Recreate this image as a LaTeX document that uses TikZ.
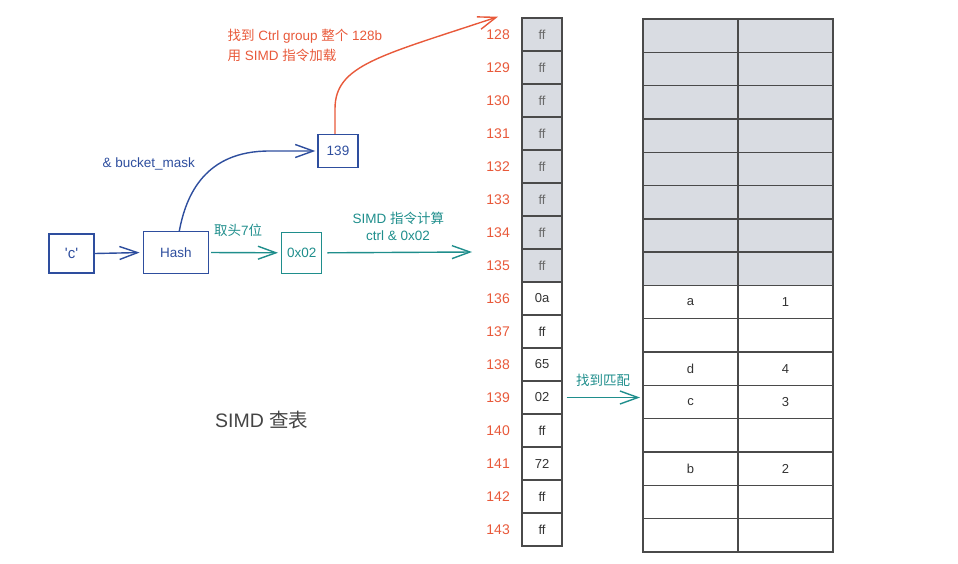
\documentclass[tikz,border=0pt]{standalone}
\usepackage{fontspec}
\setmainfont{Liberation Sans}
\newfontfamily\cjk{Noto Sans CJK SC}
\usetikzlibrary{arrows.meta}
\definecolor{cblue}{HTML}{2E4E9E}
\definecolor{cteal}{HTML}{1F8E8C}
\definecolor{cred}{HTML}{E8593A}
\definecolor{cgrayfill}{HTML}{D9DCE2}
\definecolor{cborder}{HTML}{4A4A4A}
\definecolor{ctext}{HTML}{333333}
\definecolor{cgtext}{HTML}{6A6A6A}
\definecolor{ctitle}{HTML}{444444}
\tikzset{
  tip/.style={-{Straight Barb[length=18pt,width=13pt]}, line width=1.4pt},
  lbl/.style={font=\fontsize{13.5}{16}\selectfont, inner sep=0},
  keybox/.style={draw=cblue, line width=1.4pt, text=cblue, inner sep=0, font=\fontsize{13.5}{16}\selectfont},
  ctrlcell/.style={draw=cborder, line width=1.4pt, minimum width=40pt, minimum height=33pt, inner sep=0, font=\fontsize{13}{15}\selectfont, text=ctext},
  ctrlgray/.style={ctrlcell, fill=cgrayfill, text=cgtext},
  tcell/.style={draw=cborder, line width=1.4pt, minimum width=95pt, minimum height=33.3pt, inner sep=0, font=\fontsize{13}{15}\selectfont, text=ctext},
  tgray/.style={tcell, fill=cgrayfill},
  idx/.style={text=cred, font=\fontsize{14}{16}\selectfont, inner sep=0},
}
\begin{document}
\begin{tikzpicture}[x=1pt,y=-1pt]
\useasboundingbox (0,0) rectangle (958,563);
% left nodes
\node[keybox, minimum width=45pt, minimum height=39pt] (c) at (71.5,253.5) {\fontsize{15}{17}\selectfont \textquotesingle c\textquotesingle};
\node[keybox, minimum width=65pt, minimum height=41.5pt] (hash) at (175.8,252.5) {Hash};
\node[keybox, draw=cteal, text=cteal, minimum width=40pt, minimum height=41pt] (ox) at (301.7,252.8) {0x02};
\node[keybox, minimum width=40pt, minimum height=33pt] (n139) at (338,151) {139};
% ctrl column
\foreach \i/\v in {0/ff,1/ff,2/ff,3/ff,4/ff,5/ff,6/ff,7/ff}{
  \node[ctrlgray] (k\i) at (542,{18+33*\i+16.5}) {\v};
}
\foreach \i/\v in {8/0a,9/ff,10/65,11/02,12/ff,13/72,14/ff,15/ff}{
  \node[ctrlcell] (k\i) at (542,{18+33*\i+16.5}) {\v};
}
\foreach \i in {0,...,15}{
  \pgfmathtruncatemacro{\num}{128+\i}
  \node[idx, anchor=east] (r\i) at (510,{18+33*\i+16.5}) {\num};
}
% table
\foreach \i in {0,...,7}{
  \node[tgray] (ta\i) at (690.5,{19+33.3*\i+16.65}) {};
  \node[tgray] (tb\i) at (785.5,{19+33.3*\i+16.65}) {};
}
\foreach \i/\a/\b in {8/a/1,9//,10/d/4,11/c/3,12//,13/b/2,14//,15//}{
  \node[tcell] (ta\i) at (690.5,{19+33.3*\i+16.65}) {\a};
  \node[tcell] (tb\i) at (785.5,{19+33.3*\i+16.65}) {\b};
}
% labels
\node[lbl, text=cred, anchor=west] (t1) at (227.5,36) {{\cjk 找到} Ctrl group {\cjk 整个} 128b};
\node[lbl, text=cred, anchor=west] (t2) at (227.5,55) {{\cjk 用} SIMD {\cjk 指令加载}};
\node[lbl, text=cblue, anchor=west] (bm) at (102.5,163.5) {\& bucket\_mask};
\node[lbl, text=cteal, anchor=west] (tk) at (214,230) {{\cjk 取头}7{\cjk 位}};
\node[lbl, text=cteal] (s1) at (398.3,218.3) {SIMD {\cjk 指令计算}};
\node[lbl, text=cteal] (s2) at (398,236) {ctrl \& 0x02};
\node[lbl, text=cteal, anchor=west] (fm) at (576,380) {\cjk 找到匹配};
\node[inner sep=0, text=ctitle, anchor=west, font=\fontsize{19.5}{22}\selectfont] (title) at (215,420) {SIMD {\cjk 查表}};
% connectors
\coordinate (redend) at (498,16.7);
\coordinate (simdend) at (472,252);
\coordinate (matchend) at (640,397.5);
\draw[tip, cblue, shorten >=3pt] (c.east) -- (hash.west);
\draw[tip, cteal, shorten <=2pt, shorten >=3pt] (hash.east) -- (ox.west);
\draw[tip, cteal] ([xshift=5pt]ox.east) -- (simdend);
\draw[tip, cblue, shorten >=2pt] ([xshift=3.5pt]hash.north) .. controls (186,195) and (205,150.7) .. (270,151) -- (n139.west);
\draw[tip, cred] ([xshift=-3pt]n139.north) -- +(0,-25) .. controls (335,65) and (380,56) .. (redend);
\draw[tip, cteal] ([xshift=4pt]k11.east) -- (matchend);
\end{tikzpicture}
\end{document}
